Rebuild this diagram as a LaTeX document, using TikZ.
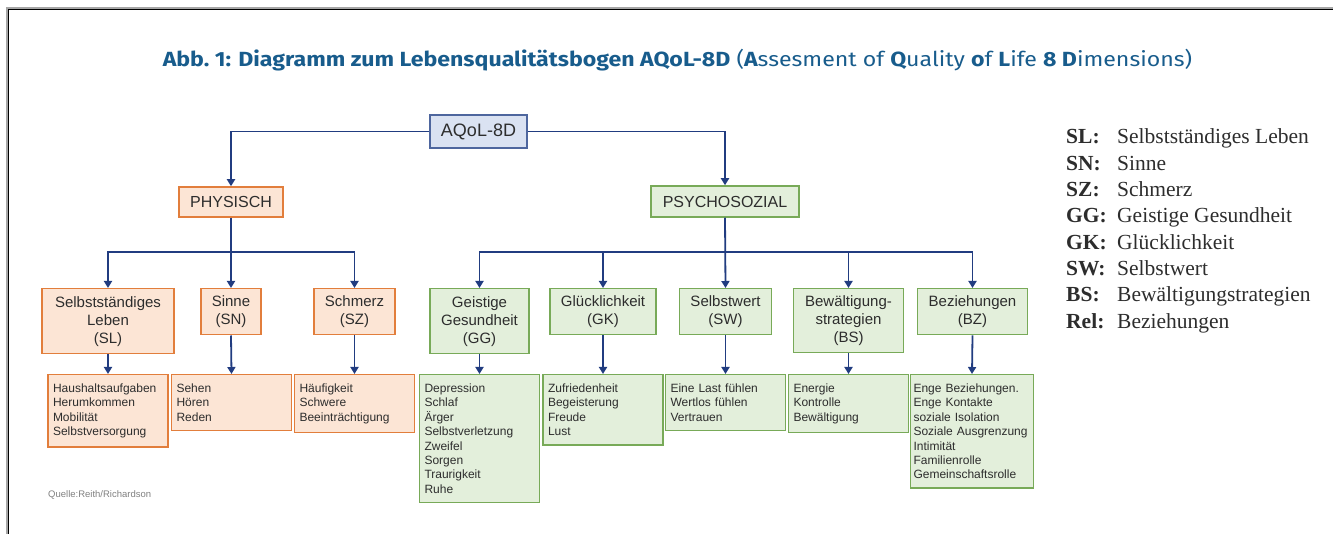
\documentclass[tikz,border=0pt]{standalone}
\usepackage{fontspec}
\setmainfont{Liberation Sans}
\newfontfamily\legendfont{Liberation Serif}
\newfontfamily\titlefont{Fira Sans}
\usepackage{graphicx}
\usepackage{tikz}
\usetikzlibrary{positioning}
\usetikzlibrary{arrows.meta}

\definecolor{arrowblue}{RGB}{33,60,128}
\definecolor{titleblue}{RGB}{24,92,140}
\definecolor{textgray}{RGB}{45,45,45}
\definecolor{physborder}{RGB}{226,126,60}
\definecolor{physfill}{RGB}{252,229,213}
\definecolor{psyborder}{RGB}{120,170,88}
\definecolor{psyfill}{RGB}{227,239,219}
\definecolor{rootborder}{RGB}{78,102,158}
\definecolor{rootfill}{RGB}{218,226,242}

\newcommand{\listfont}{\fontsize{12}{14.4}\selectfont\hyphenpenalty=10000\relax}

\tikzstyle{line} = [draw=arrowblue, line width=1.8pt, -{Triangle[length=7pt,width=8pt]}]
\tikzstyle{physbox} = [draw=physborder, fill=physfill, line width=1.5pt, text=textgray, inner xsep=11pt, inner ysep=7pt, align=center, font=\fontsize{15}{18}\selectfont]
\tikzstyle{psybox} = [physbox, draw=psyborder, fill=psyfill]
\tikzstyle{physlist} = [physbox, align=left, text width=110pt, inner xsep=5pt, inner ysep=9pt, font=\listfont]
\tikzstyle{psylist} = [physlist, draw=psyborder, fill=psyfill]
\tikzstyle{legend} = [anchor=base west, inner sep=0pt, text=textgray, font=\legendfont\fontsize{21.5}{26}\selectfont]

\begin{document}
\begin{tikzpicture}[x=1pt, y=-1pt]
	\useasboundingbox (0,0) rectangle (1333,534);
	\draw[gray!70, line width=1.5pt] (7,534) -- (7,8) -- (1333,8);
	\draw[black, line width=1.5pt] (8.5,534) -- (8.5,9.5) -- (1333,9.5);

	\node[anchor=base, inner sep=0pt, text=titleblue, font=\titlefont\fontsize{20.5}{24}\selectfont] (title) at (677.5,67)
		{\scalebox{1.128}[1]{{\bfseries Abb.~1: Diagramm zum Lebensqualitätsbogen AQoL-8D} ({\bfseries A}ssesment of {\bfseries Q}uality {\bfseries o}f {\bfseries L}ife {\bfseries 8 D}imensions)}};

	\node[physbox, draw=rootborder, fill=rootfill, minimum width=97pt, minimum height=33pt, font=\fontsize{18}{21}\selectfont] (aqol) at (478.5,131.5) {AQoL-8D};
	\node[physbox, minimum width=104pt, minimum height=30pt, font=\fontsize{16}{19}\selectfont] (phys) at (231,202) {PHYSISCH};
	\node[psybox, minimum width=148pt, minimum height=31pt, font=\fontsize{16}{19}\selectfont] (psy) at (725,201.5) {PSYCHOSOZIAL};

	% physisch
	\node[physbox, anchor=north, minimum width=132pt, minimum height=65pt] (sl) at (108,288) {Selbstständiges\\Leben\\(SL)};
	\node[physbox, anchor=north, minimum width=59pt, minimum height=46pt] (sinne) at (231,288) {Sinne\\(SN)};
	\node[physbox, anchor=north, minimum width=79pt, minimum height=46pt] (schmerz) at (354.5,288) {Schmerz\\(SZ)};

	\node[physlist, anchor=north] (sldet) at (108,374) {Haushaltsaufgaben\\Herumkommen\\Mobilität\\Selbstversorgung};
	\node[physlist, anchor=north] (sinnedet) at (231.5,374) {Sehen\\Hören\\Reden};
	\node[physlist, anchor=north] (schmerzdet) at (354.5,374) {Häufigkeit\\Schwere\\Beeinträchtigung};

	% psychosozial
	\node[psybox, anchor=north, minimum width=95pt, minimum height=65pt] (gg) at (479.5,288) {Geistige\\Gesundheit\\(GG)};
	\node[psybox, anchor=north, minimum width=106pt, minimum height=46pt] (gk) at (603,288) {Glücklichkeit\\(GK)};
	\node[psybox, anchor=north, minimum width=91pt, minimum height=45pt] (sw) at (725.5,288) {Selbstwert\\(SW)};
	\node[psybox, anchor=north, minimum width=110pt, minimum height=64pt] (bs) at (848.5,288) {Bewältigung-\\strategien\\(BS)};
	\node[psybox, anchor=north, minimum width=107pt, minimum height=45pt] (bz) at (972.5,288) {Beziehungen\\(BZ)};

	\node[psylist, anchor=north] (ggdet) at (479.5,374) {Depression\\Schlaf\\Ärger\\Selbstverletzung\\Zweifel\\Sorgen\\Traurigkeit\\Ruhe};
	\node[psylist, anchor=north] (gkdet) at (603,374) {Zufriedenheit\\Begeisterung\\Freude\\Lust};
	\node[psylist, anchor=north] (swdet) at (725.5,374) {Eine Last fühlen\\Wertlos fühlen\\Vertrauen};
	\node[psylist, anchor=north] (bsdet) at (848.5,374) {Energie\\Kontrolle\\Bewältigung};
	\node[psylist, anchor=north, text width=117pt, inner xsep=3pt] (bzdet) at (972,374) {Enge Beziehungen.\\Enge Kontakte\\soziale Isolation\\Soziale Ausgrenzung\\Intimität\\Familienrolle\\Gemeinschaftsrolle};

	\coordinate (physbus) at (231,252);
	\coordinate (psybus) at (725,252);

	\draw[line] (aqol.west) -| (phys.north);
	\draw[line] (aqol.east) -| (psy.north);

	\draw[line] (phys.south) -- (sinne.north);
	\draw[line] (physbus) -| (sl.north);
	\draw[line] (physbus) -| (schmerz.north);

	\draw[line] (psy.south) -- (sw.north);
	\foreach \n in {gg, gk, bs, bz}
		\draw[line] (psybus) -| (\n.north);

	\foreach \a in {sl, sinne, schmerz, gg, gk, sw, bs, bz}
		\draw[line] (\a.south) -- (\a det.north);

	\node[anchor=west, inner sep=0pt, text=gray, font=\fontsize{9.5}{11}\selectfont] (quelle) at (48,495) {Quelle:Reith/Richardson};

	% legende
	\foreach \abbr/\full [count=\i from 0] in {SL/Selbstständiges Leben, SN/Sinne, SZ/Schmerz, GG/Geistige Gesundheit, GK/Glücklichkeit, SW/Selbstwert, BS/Bewältigungstrategien, Rel/Beziehungen}
		\node[legend] (leg\i) at (1066,{144+26.3*\i}) {\makebox[51pt][l]{\bfseries\abbr:}\full};
\end{tikzpicture}
\end{document}
